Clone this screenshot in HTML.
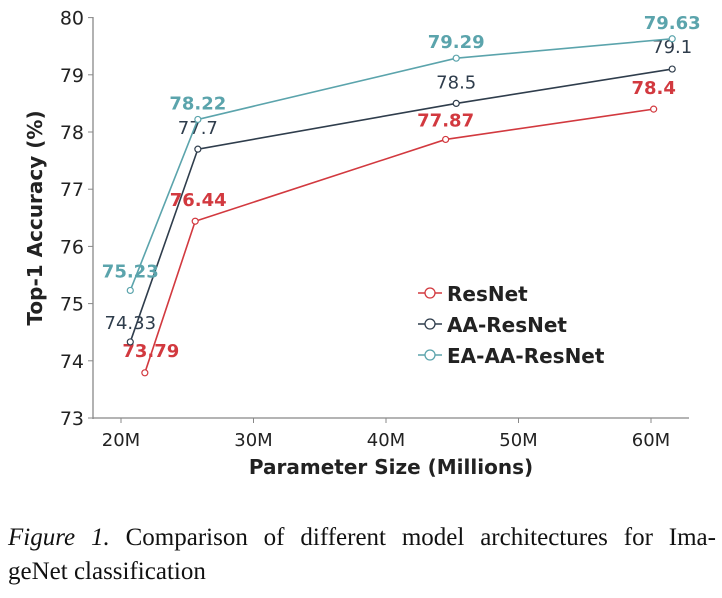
<!DOCTYPE html>
<html><head><meta charset="utf-8"><style>
body{margin:0;background:#fff;width:722px;height:598px;overflow:hidden}
svg text{font-family:"DejaVu Sans","Liberation Sans",sans-serif}
.cap{position:absolute;left:8px;top:521px;width:708px;font-family:"Liberation Serif",serif;font-size:25px;line-height:34px;color:#111}
.l1{display:block;text-align:justify;text-align-last:justify}
</style></head><body>
<svg id="chart" width="722" height="500" style="position:absolute;left:0;top:0"></svg>
<div class="cap"><span class="l1"><i>Figure 1.</i> Comparison of different model architectures for Ima-</span>geNet classification</div>
<script>
const xTicks=[20,30,40,50,60];
const xTickLabels=["20M","30M","40M","50M","60M"];
const yTicks=[73,74,75,76,77,78,79,80];
const seriesNames=["ResNet","AA-ResNet","EA-AA-ResNet"];
const resnetX=[21.8,25.6,44.5,60.2];
const resnetY=[73.79,76.44,77.87,78.4];
const aaX=[20.7,25.8,45.3,61.6];
const aaY=[74.33,77.7,78.5,79.1];
const eaX=[20.7,25.8,45.3,61.6];
const eaY=[75.23,78.22,79.29,79.63];
const colors=["#d2393f","#2f3d4c","#5ba4ac"];
const NS="http://www.w3.org/2000/svg";
const svg=document.getElementById('chart');
const sx=v=>121+(v-20)*13.25;
const sy=v=>418-(v-73)*57.2;
function mk(t,a,txt){const e=document.createElementNS(NS,t);for(const k in a)e.setAttribute(k,a[k]);if(txt!==undefined)e.textContent=txt;svg.appendChild(e);return e;}
let e=mk('line',{x1:93,y1:17,x2:93,y2:419,stroke:'#888','stroke-width':1.3});


e=mk('line',{x1:93,y1:418,x2:689,y2:418,stroke:'#888','stroke-width':1.3});


yTicks.forEach(v=>{
 mk('line',{x1:88,y1:sy(v),x2:93,y2:sy(v),stroke:'#888'});
 e=mk('text',{x:84,y:sy(v)+7,'text-anchor':'end','font-size':19,fill:'#222'},String(v));
 
 
});
xTicks.forEach((v,i)=>{
 mk('line',{x1:sx(v),y1:418,x2:sx(v),y2:423,stroke:'#888'});
 e=mk('text',{x:sx(v),y:446,'text-anchor':'middle','font-size':18,fill:'#222'},xTickLabels[i]);
 
 
});
e=mk('text',{x:391,y:474,'text-anchor':'middle','font-size':20,'font-weight':'bold',fill:'#222'},'Parameter Size (Millions)');


e=mk('text',{x:0,y:0,'text-anchor':'middle','font-size':20,'font-weight':'bold',fill:'#222',transform:'translate(42,218) rotate(-90)'},'Top-1 Accuracy (%)');


const all=[[resnetX,resnetY],[aaX,aaY],[eaX,eaY]];
const labelOff=[[[6,-16],[3,-15],[0,-13],[0,-15]],[[0,-13],[0,-15],[0,-15],[0,-16]],[[0,-13],[0,-10],[0,-10],[0,-10]]];
all.forEach(([xs,ys],s)=>{
 const pts=xs.map((x,i)=>sx(x)+','+sy(ys[i])).join(' ');
 e=mk('polyline',{points:pts,fill:'none',stroke:colors[s],'stroke-width':1.6});
 
 
 xs.forEach((x,i)=>{
  e=mk('circle',{cx:sx(x),cy:sy(ys[i]),r:3,fill:'#fff',stroke:colors[s],'stroke-width':1.2});
  
  
  e=mk('text',{x:sx(x)+labelOff[s][i][0],y:sy(ys[i])+labelOff[s][i][1],'text-anchor':'middle','font-size':18,'font-weight':s==1?'normal':'bold',fill:colors[s]},String(ys[i]));
  
  
 });
});
seriesNames.forEach((n,i)=>{
 const y=293+i*31;
 mk('line',{x1:418,y1:y,x2:442,y2:y,stroke:colors[i],'stroke-width':1.6});
 e=mk('circle',{cx:430,cy:y,r:5,fill:'#fff',stroke:colors[i],'stroke-width':1.3});
 
 
 e=mk('text',{x:447,y:y+8,'font-size':20,'font-weight':'bold',fill:'#222'},n);
 
 
});
</script>
</body></html>
